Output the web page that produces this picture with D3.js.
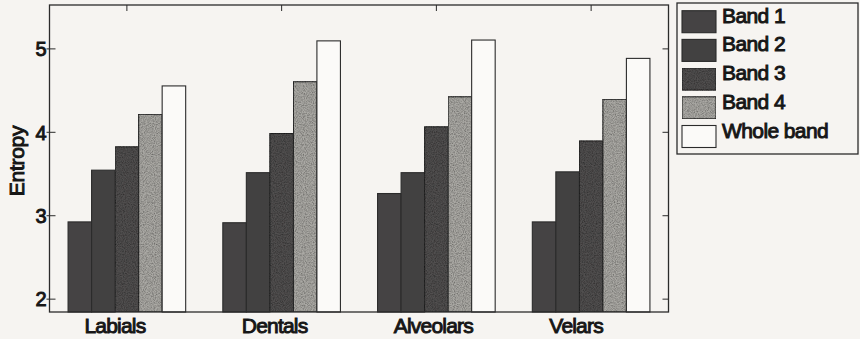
<!DOCTYPE html>
<html>
<head>
<meta charset="utf-8">
<script src="https://cdn.jsdelivr.net/npm/d3@7"></script>
<style>
  html, body { margin: 0; padding: 0; background: #f6f4f1; }
  svg { display: block; }
  text { font-family: Arial, "Liberation Sans", Helvetica, sans-serif; fill: #161616; stroke: #161616; stroke-width: 0.95px; }
</style>
</head>
<body>
<svg id="chart" width="860" height="339"></svg>
<script>
// Entropy of each frequency band per place of articulation
const categories = ["Labials", "Dentals", "Alveolars", "Velars"];
const seriesNames = ["Band 1", "Band 2", "Band 3", "Band 4", "Whole band"];
const band1 = [2.92, 2.91, 3.26, 2.92];
const band2 = [3.54, 3.51, 3.51, 3.52];
const band3 = [3.82, 3.98, 4.06, 3.89];
const band4 = [4.21, 4.60, 4.42, 4.39];
const wholeBand = [4.55, 5.09, 5.10, 4.88];
const yTicks = [2, 3, 4, 5];
const yLabel = "Entropy";

const series = [band1, band2, band3, band4, wholeBand];
const fills = ["#454344", "#424141", "#514f4f", "#aaa9a4", "#fbfaf8"];

const svg = d3.select("#chart");
const plot = { left: 49.5, right: 668.5, top: 5, bottom: 312 };

// Grain used by the textured bands
const defs = svg.append("defs");
const grain = defs.append("filter").attr("id", "grain").attr("x", 0).attr("y", 0).attr("width", 1).attr("height", 1);
grain.append("feTurbulence").attr("type", "fractalNoise").attr("baseFrequency", 0.9).attr("numOctaves", 2).attr("seed", 3).attr("result", "noise");
grain.append("feColorMatrix").attr("in", "noise").attr("type", "matrix")
  .attr("values", "0 0 0 0 0  0 0 0 0 0  0 0 0 0 0  0 0 0 -1.1 0.75").attr("result", "dots");
grain.append("feComposite").attr("in", "dots").attr("in2", "SourceGraphic").attr("operator", "in").attr("result", "mask");
grain.append("feMerge").selectAll("feMergeNode").data(["SourceGraphic", "mask"]).join("feMergeNode").attr("in", d => d);
const textured = [false, false, true, true, false];

const x = d3.scaleLinear().domain([0.5, categories.length + 0.5]).range([plot.left, plot.right]);
const y = d3.scaleLinear().domain([1.84, 5.52]).range([plot.bottom, plot.top]);

const groupWidth = 0.76;
const barW = groupWidth / series.length;
const barX = (i, j) => x(i + 1 - groupWidth / 2 + j * barW);

// Bottom ticks sit behind the bars
const g = svg.append("g");
g.selectAll("line.bt").data(categories).join("line")
  .attr("x1", (d, i) => x(i + 1)).attr("x2", (d, i) => x(i + 1))
  .attr("y1", plot.bottom).attr("y2", plot.bottom - 6)
  .attr("stroke", "#2a2a2a").attr("stroke-width", 1);

// Bars
series.forEach((vals, j) => {
  g.append("g").selectAll("rect").data(vals).join("rect")
    .attr("x", (d, i) => barX(i, j))
    .attr("width", x(1 + barW) - x(1))
    .attr("y", d => y(d))
    .attr("height", d => y.range()[0] - y(d))
    .attr("fill", fills[j])
    .attr("filter", textured[j] ? "url(#grain)" : null)
    .attr("stroke", "#2b2b2b").attr("stroke-width", 1.1);
});

// Frame
g.append("rect")
  .attr("x", plot.left).attr("y", plot.top)
  .attr("width", plot.right - plot.left).attr("height", plot.bottom - plot.top)
  .attr("fill", "none").attr("stroke", "#2b2b2b").attr("stroke-width", 1.3);

// Top ticks at category centres
g.selectAll("line.tt").data(categories).join("line")
  .attr("x1", (d, i) => x(i + 1)).attr("x2", (d, i) => x(i + 1))
  .attr("y1", plot.top).attr("y2", plot.top + 6)
  .attr("stroke", "#2a2a2a").attr("stroke-width", 1);

// Left axis ticks and labels
const leftAxis = d3.axisLeft(y).tickValues(yTicks).tickSize(-6).tickPadding(3).tickFormat(d3.format("d"));
const la = svg.append("g").attr("transform", `translate(${plot.left},0)`).call(leftAxis);
la.select(".domain").remove();
la.selectAll(".tick line").attr("stroke", "#2a2a2a").attr("x1", -3);
la.selectAll(".tick text").attr("font-size", 20).attr("dy", "0.36em")
  .style("font-family", "Arial, 'Liberation Sans', sans-serif")
  .style("fill", "#161616").style("stroke", "#161616").style("stroke-width", "0.95px");

// Right axis ticks (no labels)
const rightAxis = d3.axisRight(y).tickValues(yTicks).tickSize(-6).tickFormat("");
const ra = svg.append("g").attr("transform", `translate(${plot.right},0)`).call(rightAxis);
ra.select(".domain").remove();
ra.selectAll(".tick line").attr("stroke", "#2a2a2a");

// Category labels
const labelNudge = [-12, -7, -3, -15];
svg.append("g").selectAll("text").data(categories).join("text")
  .attr("x", (d, i) => x(i + 1) + labelNudge[i])
  .attr("y", 333)
  .attr("text-anchor", "middle")
  .attr("font-size", 21)
  .attr("letter-spacing", -0.8)
  .text(d => d);

// Y axis title
svg.append("text")
  .attr("transform", "translate(23.5,161) rotate(-90)")
  .attr("text-anchor", "middle")
  .attr("font-size", 21)
  .attr("letter-spacing", -0.3)
  .text(yLabel);

// Legend
const lg = svg.append("g");
lg.append("rect").attr("x", 677).attr("y", 3).attr("width", 181).attr("height", 151)
  .attr("fill", "#f6f4f1").attr("stroke", "#2b2b2b").attr("stroke-width", 1.3);
const item = lg.selectAll("g.item").data(seriesNames).join("g")
  .attr("transform", (d, i) => `translate(682,${10.7 + i * 28.7})`);
item.append("rect").attr("width", 34).attr("height", 22)
  .attr("fill", (d, i) => fills[i])
  .attr("filter", (d, i) => textured[i] ? "url(#grain)" : null)
  .attr("stroke", "#2b2b2b").attr("stroke-width", 1.1);
item.append("text").attr("x", 40).attr("y", 12)
  .attr("font-size", 21).attr("letter-spacing", -0.6)
  .text(d => d);
</script>
</body>
</html>
